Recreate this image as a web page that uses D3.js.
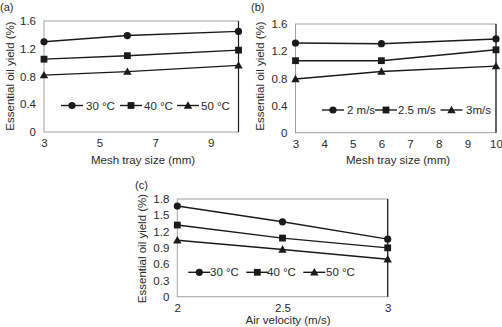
<!DOCTYPE html>
<html>
<head>
<meta charset="utf-8">
<script src="https://cdn.jsdelivr.net/npm/d3@7/dist/d3.min.js"></script>
<style>
  html, body { margin: 0; padding: 0; background: #fff; }
  svg { display: block; }
  text { font-family: "Liberation Sans", Arial, sans-serif; fill: #2a2a2a; }
</style>
</head>
<body>
<svg id="chart" width="502" height="327"></svg>
<script>
// ---- data ----
// (a) yield vs mesh tray size at three temperatures
const aX = [3, 6, 10];
const aSeriesNames = ["30 °C", "40 °C", "50 °C"];
const a30 = [1.30, 1.39, 1.45];
const a40 = [1.05, 1.10, 1.18];
const a50 = [0.82, 0.87, 0.96];
const aXTicks = [3, 5, 7, 9];
const aYTicks = [0, 0.4, 0.8, 1.2, 1.6];

// (b) yield vs mesh tray size at three air velocities
const bX = [3, 6, 10];
const bSeriesNames = ["2 m/s", "2.5 m/s", "3m/s"];
const b2 = [1.32, 1.31, 1.38];
const b25 = [1.06, 1.06, 1.22];
const b3 = [0.79, 0.90, 0.98];
const bXTicks = [3, 4, 5, 6, 7, 8, 9, 10];
const bYTicks = [0, 0.4, 0.8, 1.2, 1.6];

// (c) yield vs air velocity at three temperatures
const cX = [2, 2.5, 3];
const cSeriesNames = ["30 °C", "40 °C", "50 °C"];
const c30 = [1.67, 1.38, 1.06];
const c40 = [1.32, 1.08, 0.90];
const c50 = [1.04, 0.87, 0.69];
const cXTicks = [2, 2.5, 3];
const cYTicks = [0, 0.3, 0.6, 0.9, 1.2, 1.5, 1.8];

const markers = ["circle", "square", "triangle"];

// ---- panels ----
const panels = [
  {
    tag: "(a)", tagPos: [0, 11],
    x: aX, series: [a30, a40, a50], names: aSeriesNames,
    xDomain: [3, 10], yDomain: [0, 1.6], xTicks: aXTicks, yTicks: aYTicks,
    box: { l: 44, r: 238.5, t: 21, b: 132 },
    xTitle: "Mesh tray size (mm)", xTitlePos: [143, 164],
    yTitlePos: [14, 76],
    legend: { y: 105.5, items: [{ m: 72, t: 86 }, { m: 131, t: 144 }, { m: 188, t: 201 }] },
    xFmt: d => d
  },
  {
    tag: "(b)", tagPos: [251, 11],
    x: bX, series: [b2, b25, b3], names: bSeriesNames,
    xDomain: [3, 10], yDomain: [0, 1.6], xTicks: bXTicks, yTicks: bYTicks,
    box: { l: 295.5, r: 496, t: 24, b: 132.7 },
    xTitle: "Mesh tray size (mm)", xTitlePos: [398, 164],
    yTitlePos: [264, 76],
    legend: { y: 110, items: [{ m: 333, t: 347 }, { m: 386, t: 398 }, { m: 451.5, t: 466 }] },
    xFmt: d => d
  },
  {
    tag: "(c)", tagPos: [135, 189],
    x: cX, series: [c30, c40, c50], names: cSeriesNames,
    xDomain: [2, 3], yDomain: [0, 1.8], xTicks: cXTicks, yTicks: cYTicks,
    box: { l: 177.3, r: 387.7, t: 199, b: 296.7 },
    xTitle: "Air velocity (m/s)", xTitlePos: [288, 324],
    yTitlePos: [145.5, 248.5],
    legend: { y: 272.3, items: [{ m: 199.3, t: 210 }, { m: 257.3, t: 267 }, { m: 314.3, t: 326 }] },
    xFmt: d => d
  }
];

const svg = d3.select("#chart");
const ink = "#1a1a1a";

function drawMarker(g, type, cx, cy) {
  if (type === "circle") {
    g.append("circle").attr("cx", cx).attr("cy", cy).attr("r", 3.6).attr("fill", ink);
  } else if (type === "square") {
    g.append("rect").attr("x", cx - 3.4).attr("y", cy - 3.4)
      .attr("width", 6.8).attr("height", 6.8).attr("fill", ink);
  } else {
    const s = 4.2;
    g.append("path")
      .attr("d", `M${cx},${cy - s}L${cx + s},${cy + s * 0.75}L${cx - s},${cy + s * 0.75}Z`)
      .attr("fill", ink);
  }
}

panels.forEach(p => {
  const g = svg.append("g");
  const xs = d3.scaleLinear().domain(p.xDomain).range([p.box.l, p.box.r]);
  const ys = d3.scaleLinear().domain(p.yDomain).range([p.box.b, p.box.t]);

  // plot frame: grey on three sides, dark on the right
  g.append("rect")
    .attr("x", p.box.l).attr("y", p.box.t)
    .attr("width", p.box.r - p.box.l).attr("height", p.box.b - p.box.t)
    .attr("fill", "none").attr("stroke", "#a0a0a0").attr("stroke-width", 1);
  g.append("line")
    .attr("x1", p.box.r).attr("x2", p.box.r)
    .attr("y1", p.box.t).attr("y2", p.box.b)
    .attr("stroke", ink).attr("stroke-width", 1.2);

  // axes (labels only, no tick marks or domain line)
  const xAxis = g.append("g")
    .attr("transform", `translate(0,${p.box.b})`)
    .call(d3.axisBottom(xs).tickValues(p.xTicks).tickSize(0).tickPadding(7).tickFormat(p.xFmt));
  const yAxis = g.append("g")
    .attr("transform", `translate(${p.box.l},0)`)
    .call(d3.axisLeft(ys).tickValues(p.yTicks).tickSize(0).tickPadding(8).tickFormat(d => d === 0 ? "0" : d3.format(".1f")(d)));
  [xAxis, yAxis].forEach(ax => {
    ax.select(".domain").remove();
    ax.selectAll("text")
      .style("font-family", '"Liberation Sans", Arial, sans-serif')
      .style("font-size", "11.5px").attr("fill", "#2a2a2a");
  });

  // axis titles
  g.append("text")
    .attr("x", p.xTitlePos[0]).attr("y", p.xTitlePos[1])
    .attr("text-anchor", "middle").style("font-size", "11.5px")
    .text(p.xTitle);
  g.append("text")
    .attr("transform", `translate(${p.yTitlePos[0]},${p.yTitlePos[1]}) rotate(-90)`)
    .attr("text-anchor", "middle").style("font-size", "11.5px")
    .text("Essential oil yield (%)");

  // panel tag
  g.append("text")
    .attr("x", p.tagPos[0]).attr("y", p.tagPos[1])
    .style("font-size", "11px").text(p.tag);

  // series lines and markers
  const line = d3.line().x((d, i) => xs(p.x[i])).y(d => ys(d));
  p.series.forEach((vals, si) => {
    g.append("path").datum(vals)
      .attr("d", line).attr("fill", "none")
      .attr("stroke", ink).attr("stroke-width", 1.4);
    vals.forEach((v, i) => drawMarker(g, markers[si], xs(p.x[i]), ys(v)));
  });

  // legend
  p.legend.items.forEach((it, si) => {
    g.append("line")
      .attr("x1", it.m - 11).attr("x2", it.m + 11)
      .attr("y1", p.legend.y).attr("y2", p.legend.y)
      .attr("stroke", ink).attr("stroke-width", 1.4);
    drawMarker(g, markers[si], it.m, p.legend.y);
    g.append("text")
      .attr("x", it.t).attr("y", p.legend.y + 4)
      .style("font-size", "11.5px").text(p.names[si]);
  });
});
</script>
</body>
</html>
